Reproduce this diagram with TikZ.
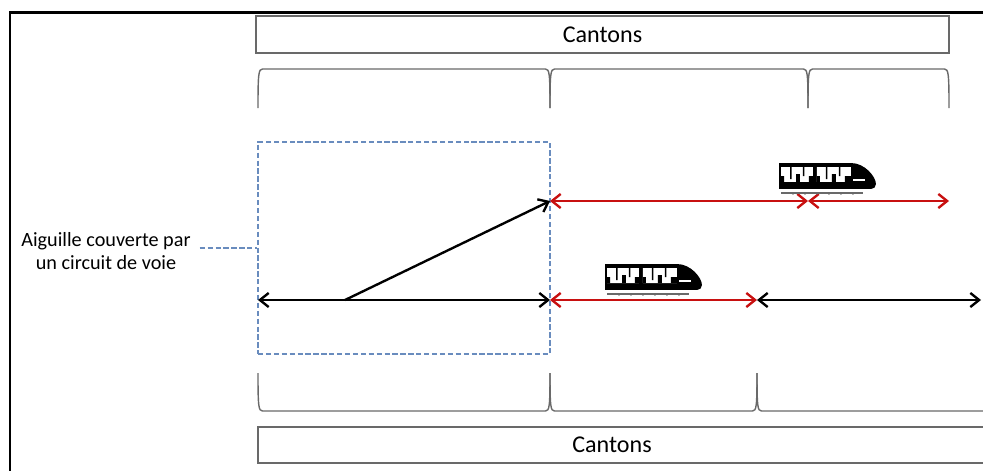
\documentclass[tikz,border=0pt]{standalone}
\usepackage{fontspec}
\setmainfont{Carlito}
\usetikzlibrary{arrows.meta}
\definecolor{voierouge}{RGB}{200,16,16}
\definecolor{cvbleu}{RGB}{105,140,190}
\definecolor{cadre}{RGB}{105,105,105}
\tikzset{
  pointe/.tip={Straight Barb[length=5pt,width=8pt]},
  voie/.style={line width=1.35pt,pointe-pointe},
  canton/.style={draw=cadre,line width=0.8pt,font=\fontsize{13.7}{16}\selectfont},
  accolade/.style={draw=cadre,line width=0.8pt},
  circuit/.style={draw=cvbleu,line width=0.7pt,dash pattern=on 3pt off 1.5pt},
  tram/.pic={
    \begin{scope}[scale=0.01]
      \fill (0,0) -- (72,0) .. controls (86,0) and (97,14) .. (97,21)
        .. controls (97,24) and (95,26) .. (92,26) -- (0,26) -- cycle;
      \fill[white] (2,4) rectangle (34,19) (38,4) rectangle (72,19);
      \fill (2,13) rectangle (5,19) (11,4) rectangle (12.5,16) (17,11) rectangle (21,19)
        (24,4) rectangle (25.5,13) (30,13) rectangle (34,19);
      \fill (38,13) rectangle (41,19) (47,4) rectangle (48.5,16) (53,11) rectangle (57,19)
        (60,4) rectangle (61.5,13) (66,13) rectangle (72,19);
      \fill[white] (74,16) rectangle (86,18);
      \draw[cadre,line width=0.8pt] (2,30) -- (84,30);
      \foreach \t in {14,26,38,50,62,74}
        \fill[cadre] (\t-1.5,30) -- (\t+1.5,30) -- (\t,32) -- cycle;
    \end{scope}
  }
}
\begin{document}
\begin{tikzpicture}[x=2cm,y=-2cm]
  \useasboundingbox (0,0) rectangle (9.83,4.70);
  \clip (0,0) rectangle (9.83,4.70);
  % cadre
  \draw[line width=1.7pt] (0.10,4.80) -- (0.10,0.12) -- (9.95,0.12);
  % cantons
  \node[canton,minimum width=13.86cm,minimum height=0.74cm] (cantonshaut) at (6.025,0.345) {Cantons};
  \draw[accolade] (2.58,4.27) rectangle (10.2,4.63);
  \node[font=\fontsize{13.7}{16}\selectfont] (cantonsbas) at (6.12,4.45) {Cantons};
  \foreach \a/\b in {2.58/5.50,5.50/8.08,8.08/9.49}
    \draw[accolade] (\a,1.08) .. controls (\a,0.74) and (\a+0.005,0.69) .. (\a+0.045,0.69)
      -- (\b-0.045,0.69) .. controls (\b-0.005,0.69) and (\b,0.74) .. (\b,1.08);
  \foreach \a/\b in {2.58/5.50,5.50/7.57,7.57/10.2}
    \draw[accolade] (\a,3.73) .. controls (\a,4.06) and (\a+0.005,4.11) .. (\a+0.045,4.11)
      -- (\b-0.045,4.11) .. controls (\b-0.005,4.11) and (\b,4.06) .. (\b,3.73);
  % circuit de voie
  \node[circuit,minimum width=5.84cm,minimum height=4.24cm] (cv) at (4.04,2.48) {};
  \node[align=center,font=\fontsize{11.5}{13.6}\selectfont,inner sep=5pt] (aiguille) at (1.06,2.51)
    {Aiguille couverte par\\un circuit de voie};
  \draw[circuit] (aiguille.east |- cv.west) -- (cv.west);
  % voies
  \coordinate (a0) at (2.58,3.00);
  \coordinate (a1) at (5.50,3.00);
  \coordinate (a2) at (7.57,3.00);
  \coordinate (a3) at (9.81,3.00);
  \coordinate (b0) at (3.45,3.00);
  \coordinate (h1) at (5.50,2.01);
  \coordinate (h2) at (8.08,2.01);
  \coordinate (h3) at (9.49,2.01);
  \draw[voie] (a0) -- (a1);
  \draw[voie,voierouge] (a1) -- (a2);
  \draw[voie] (a2) -- (a3);
  \draw[voie,-pointe] (b0) -- (h1);
  \draw[voie,voierouge] (h1) -- (h2);
  \draw[voie,voierouge] (h2) -- (h3);
  % trains
  \pic at (7.79,1.63) {tram};
  \pic at (6.05,2.64) {tram};
\end{tikzpicture}
\end{document}
